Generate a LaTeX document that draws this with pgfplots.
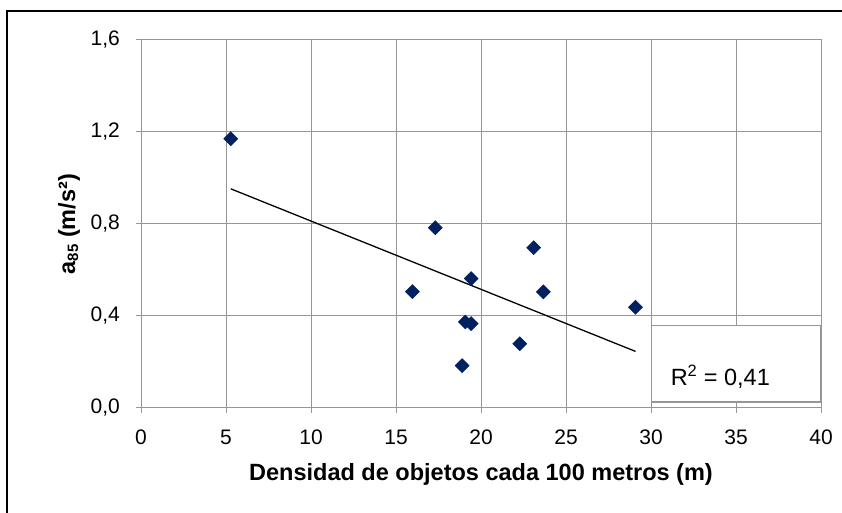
\documentclass[border=0pt]{standalone}
\usepackage{pgfplots}
\pgfplotsset{compat=1.18}
\usepackage{fontspec}
\setmainfont{Liberation Sans}
\definecolor{navy}{HTML}{002060}
\definecolor{gridgray}{HTML}{969696}
\begin{document}
\begin{tikzpicture}
\useasboundingbox (0,0) rectangle (842pt,513pt);
\draw[line width=1.6pt, black] (7pt,0pt) -- (7pt,502pt) -- (842pt,502pt);
\begin{axis}[
  at={(141pt,105pt)}, anchor=south west,
  scale only axis, width=680pt, height=368pt,
  xmin=0, xmax=40, ymin=0, ymax=1.6,
  xtick={0,5,...,40}, ytick={0,0.4,0.8,1.2,1.6},
  grid=major,
  major grid style={gridgray, line width=1pt},
  axis line style={gridgray, line width=1pt},
  tick style={gridgray, line width=1pt},
  tick align=outside, major tick length=5pt,
  xtick pos=bottom, ytick pos=left,
  /pgf/number format/assume math mode=true,
  yticklabel style={/pgf/number format/use comma, /pgf/number format/fixed, /pgf/number format/fixed zerofill, /pgf/number format/precision=1},
  ticklabel style={font=\fontsize{21}{24}\selectfont, inner sep=0pt},
  yticklabel style={anchor=east, xshift=-16pt},
  xticklabel style={anchor=center, yshift=-24pt},
  xlabel={Densidad de objetos cada 100 metros (m)},
  ylabel={a{\fontsize{15}{16}\selectfont\raisebox{-3pt}{85}} (m/s²)},
  label style={font=\bfseries\fontsize{23.5}{26}\selectfont},
  xlabel style={at={(axis description cs:0.5,0)}, anchor=center, yshift=-66pt},
  ylabel style={at={(axis description cs:0,0.5)}, anchor=center, yshift=72pt},
]
\draw[gridgray, line width=1.2pt, fill=white] (axis cs:30.04,0.026) rectangle (axis cs:40,0.358);
\node[anchor=base west, inner sep=0pt, font=\fontsize{23.5}{26}\selectfont] at (axis cs:31.15,0.097) {R\textsuperscript{2} = 0,41};
\addplot[black, line width=1.3pt] coordinates {(5.28,0.953) (29.09,0.246)};
\addplot[only marks, mark=square*, mark size=5pt, mark options={rotate=45, fill=navy, draw=navy}] coordinates {
(5.28,1.171)
(17.31,0.784)
(23.10,0.697)
(19.42,0.563)
(15.96,0.506)
(23.67,0.505)
(29.09,0.438)
(19.08,0.374)
(19.42,0.367)
(22.28,0.279)
(18.89,0.184)
};
\end{axis}
\end{tikzpicture}
\end{document}
